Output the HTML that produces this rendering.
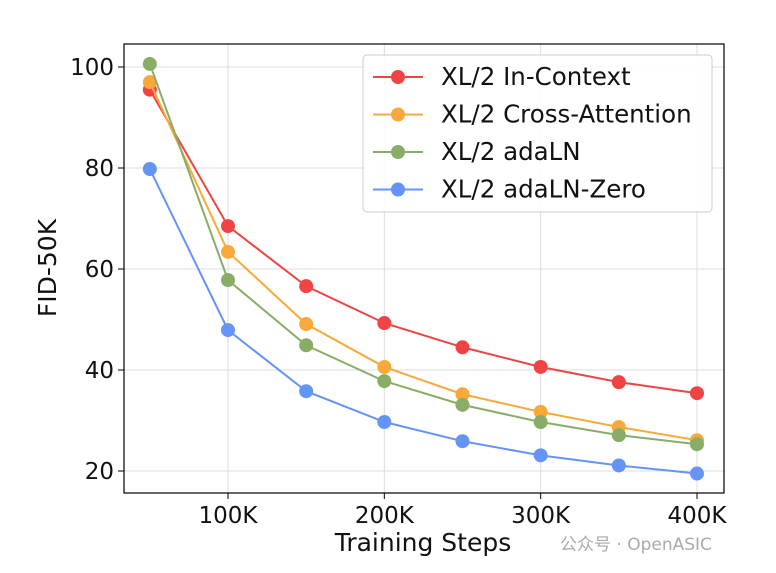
<!DOCTYPE html>
<html><head><meta charset="utf-8">
<style>
html,body{margin:0;padding:0;background:#fff;}
svg{display:block;font-family:"DejaVu Sans","Liberation Sans","Noto Sans CJK SC",sans-serif;}
</style></head>
<body>
<svg id="chart" width="776" height="573" viewBox="0 0 776 573"></svg>
<script>
const steps = [50, 100, 150, 200, 250, 300, 350, 400];
const seriesNames = ["XL/2 In-Context", "XL/2 Cross-Attention", "XL/2 adaLN", "XL/2 adaLN-Zero"];
const inContext = [95.5, 68.5, 56.6, 49.3, 44.5, 40.6, 37.6, 35.4];
const crossAttn = [97.0, 63.4, 49.1, 40.6, 35.2, 31.7, 28.7, 26.1];
const adaLN = [100.6, 57.8, 44.9, 37.8, 33.1, 29.7, 27.1, 25.3];
const adaLNZero = [79.8, 47.9, 35.8, 29.7, 25.9, 23.1, 21.1, 19.5];
const xTicks = [100, 200, 300, 400];
const xTickLabels = ["100K", "200K", "300K", "400K"];
const yTicks = [20, 40, 60, 80, 100];

const colors = ["#f04444", "#f8a93a", "#89ad67", "#6494f5"];
const allSeries = [inContext, crossAttn, adaLN, adaLNZero];
const NS = "http://www.w3.org/2000/svg";
const svg = document.getElementById("chart");
const L = 124, R = 724, T = 44, B = 493;
function xs(v){ return 228 + (v - 100) * 1.5633; }
function ys(v){ return 471 - (v - 20) * 5.05; }
function mk(tag, attrs, parent){
  const e = document.createElementNS(NS, tag);
  for (const k in attrs) e.setAttribute(k, attrs[k]);
  (parent || svg).appendChild(e);
  return e;
}
xTicks.forEach((t, i) => {
  const g = mk("line", {x1: xs(t), x2: xs(t), y1: T, y2: B, stroke: "#dcdcdc", "stroke-width": 1});
  
  
  const tk = mk("line", {x1: xs(t), x2: xs(t), y1: B, y2: B + 6, stroke: "#000", "stroke-width": 1});
  
  
  const tx = mk("text", {x: xs(t), y: B + 30, "text-anchor": "middle", "font-size": 23, fill: "#111"});
  tx.textContent = xTickLabels[i];
  
  
});
yTicks.forEach(t => {
  const g = mk("line", {x1: L, x2: R, y1: ys(t), y2: ys(t), stroke: "#dcdcdc", "stroke-width": 1});
  
  
  const tk = mk("line", {x1: L - 6, x2: L, y1: ys(t), y2: ys(t), stroke: "#000", "stroke-width": 1});
  
  
  const tx = mk("text", {x: L - 10, y: ys(t) + 8, "text-anchor": "end", "font-size": 23, fill: "#111"});
  tx.textContent = t;
  
  
});
const frame = mk("rect", {x: L, y: T, width: R - L, height: B - T, fill: "none", stroke: "#000", "stroke-width": 1.2});


allSeries.forEach((vals, si) => {
  const pts = vals.map((v, i) => xs(steps[i]) + "," + ys(v)).join(" ");
  const pl = mk("polyline", {points: pts, fill: "none", stroke: colors[si], "stroke-width": 2});
  
  
  vals.forEach((v, i) => {
    const c = mk("circle", {cx: xs(steps[i]), cy: ys(v), r: 7, fill: colors[si]});
    
    
  });
});
const lg = mk("g", {});


mk("rect", {x: 363, y: 55, width: 349, height: 157, rx: 4, fill: "#fff", "fill-opacity": 0.9, stroke: "#ccc"}, lg);
seriesNames.forEach((n, i) => {
  const y = 77 + i * 37.5;
  const e = mk("g", {}, lg);
  
  
  mk("line", {x1: 373, x2: 423, y1: y, y2: y, stroke: colors[i], "stroke-width": 2}, e);
  mk("circle", {cx: 398, cy: y, r: 7, fill: colors[i]}, e);
  const t = mk("text", {x: 441, y: y + 8, "font-size": 24.5, fill: "#111"}, e);
  t.textContent = n;
});
const xl = mk("text", {x: 423, y: 551, "text-anchor": "middle", "font-size": 25, fill: "#111"});
xl.textContent = "Training Steps";


const yl = mk("text", {x: 56, y: 268, "text-anchor": "middle", "font-size": 25, fill: "#111", transform: "rotate(-90 56 268)"});
yl.textContent = "FID-50K";


const wm = mk("text", {x: 560, y: 550, "font-size": 17, fill: "#aaa"});
wm.textContent = "公众号 · OpenASIC";


</script>
</body></html>
